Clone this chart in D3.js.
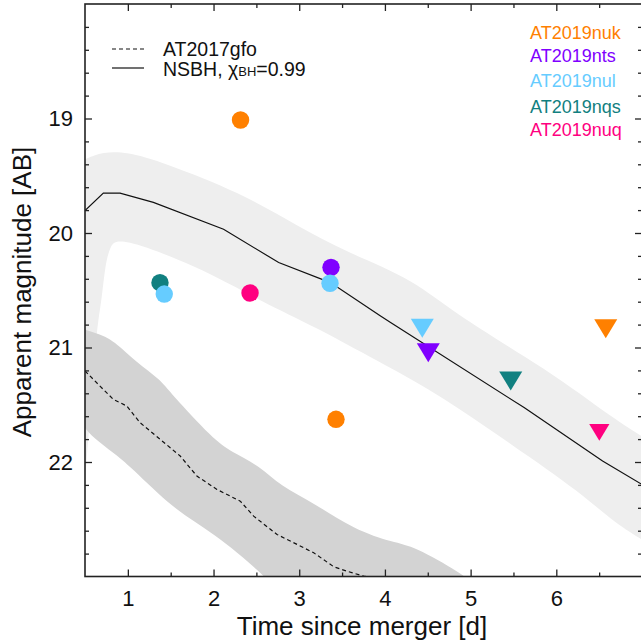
<!DOCTYPE html>
<html><head><meta charset="utf-8">
<script src="https://cdn.jsdelivr.net/npm/d3@7"></script>
<style>body{margin:0;background:#fff}svg{display:block;font-family:"Liberation Sans",Arial,sans-serif}</style>
</head><body><svg id="c" width="641" height="644"></svg>
<script>
// ---- data ----
const nsbhLine = [[0.5,19.805],[0.714,19.652],[0.909,19.652],[1.298,19.733],[2.117,19.967],[2.76,20.258],[3.364,20.433],[3.949,20.725],[4.066,20.782],[5.624,21.525],[6.54,21.992],[7.0,22.196]];
const nsbhUpper = [[0.5,19.355],[0.71,19.291],[0.987,19.291],[1.415,19.384],[2.312,19.646],[2.975,19.938],[3.559,20.17],[4.334,20.404],[4.845,20.725],[5.897,21.191],[6.676,21.628],[7.05,21.80]];
const nsbhLower = [[0.49,22.3],[0.52,21.95],[0.545,21.74],[0.578,21.453],[0.617,21.016],[0.655,20.753],[0.695,20.579],[0.734,20.288],[0.792,20.113],[0.889,20.028],[1.806,20.288],[2.584,20.608],[3.169,20.812],[3.949,21.132],[4.533,21.365],[5.507,21.861],[6.287,22.268],[6.676,22.531],[7.05,22.70]];
const gfoLine = [[0.5,21.205],[0.675,21.337],[0.831,21.453],[0.987,21.511],[1.143,21.657],[1.377,21.802],[1.611,21.948],[1.806,22.123],[2.04,22.24],[2.312,22.342],[2.468,22.473],[2.741,22.633],[2.975,22.72],[3.169,22.793],[3.403,22.915],[3.559,22.954],[3.753,22.997],[4.007,23.03]];
const gfoUpper = [[0.49,20.841],[0.675,20.885],[0.831,20.937],[1.104,21.132],[1.377,21.278],[1.494,21.394],[2.0,21.802],[2.195,21.905],[2.546,22.036],[2.78,22.211],[3.169,22.356],[3.637,22.589],[4.104,22.705],[4.338,22.735],[4.884,22.968],[5.118,23.11]];
const gfoLower = [[0.49,21.693],[0.597,21.788],[0.831,21.919],[1.026,22.036],[1.532,22.414],[2.0,22.618],[2.584,22.983],[2.72,23.11]];

const sources = ["AT2019nuk","AT2019nts","AT2019nul","AT2019nqs","AT2019nuq"];
const colors  = ["#ff8000","#8000ff","#66ccff","#118080","#ff0080"];
// detections: [source index, time, mag]
const detections = [[0,2.315,19.013],[0,3.429,21.627],[3,1.375,20.434],[2,1.425,20.533],[4,2.426,20.524],[1,3.371,20.300],[2,3.359,20.439]];
// upper limits: [source index, time, mag, relative size]
const limits = [[2,4.436,20.831,1],[1,4.506,21.045,1],[3,5.468,21.293,1],[0,6.577,20.837,1],[4,6.502,21.742,0.88]];

const xMajor = [1,2,3,4,5,6];
const yMajor = [19,20,21,22];

// ---- layout ----
const L=85, R=642, T=4, B=576.5;
const svg = d3.select("#c");
const x = d3.scaleLinear().domain([0.5,7]).range([L,R]);
const y = d3.scaleLinear().domain([18,23]).range([T,B]);

svg.append("defs").append("clipPath").attr("id","clip").append("rect")
  .attr("x",L).attr("y",T).attr("width",R-L).attr("height",B-T);
const g = svg.append("g").attr("clip-path","url(#clip)");

const edge = d3.line().x(d=>x(d[0])).y(d=>y(d[1])).curve(d3.curveBasis);
function band(up, lo){
  return edge(up) + "L" + edge(lo.slice().reverse()).slice(1) + "Z";
}
g.append("path").attr("d",band(nsbhUpper,nsbhLower)).attr("fill","#eeeeee");
g.append("path").attr("d",band(gfoUpper,gfoLower)).attr("fill","#d3d3d3");

const lin = d3.line().x(d=>x(d[0])).y(d=>y(d[1]));
g.append("path").attr("d",lin(nsbhLine)).attr("fill","none").attr("stroke","#111").attr("stroke-width",1.2);
g.append("path").attr("d",lin(gfoLine)).attr("fill","none").attr("stroke","#111").attr("stroke-width",1.2).attr("stroke-dasharray","4,3");

g.selectAll("circle.det").data(detections).join("circle")
  .attr("cx",d=>x(d[1])).attr("cy",d=>y(d[2])).attr("r",8.7)
  .attr("fill",d=>colors[d[0]]);
g.selectAll("path.lim").data(limits).join("path")
  .attr("d",d=>{const w=11.5*d[3], h=9.5*d[3];return `M${-w},${-h}L${w},${-h}L0,${h}Z`;})
  .attr("transform",d=>`translate(${x(d[1])},${y(d[2])})`)
  .attr("fill",d=>colors[d[0]]);

// ---- axes ----
const ax = svg.append("g");
function mk(axis, tr){ const a=ax.append("g").attr("transform",tr).call(axis); a.select(".domain").remove(); a.selectAll("line").attr("stroke","#222").attr("stroke-width",1.3); return a;}
const xMinor = d3.range(0.5,7.01,0.5).filter(v=>!xMajor.includes(v) && v>0.5 && v<7);
const yMinor = d3.range(18.2,22.9,0.2).map(v=>+v.toFixed(1)).filter(v=>!yMajor.includes(v));

const bx = mk(d3.axisBottom(x).tickValues(xMajor).tickFormat(d3.format("d")).tickSize(-7).tickPadding(14), `translate(0,${B})`);
bx.selectAll("text").attr("font-size",22).attr("fill","#111");
mk(d3.axisBottom(x).tickValues(xMinor).tickFormat("").tickSize(-4), `translate(0,${B})`);
mk(d3.axisTop(x).tickValues(xMajor).tickFormat("").tickSize(-7), `translate(0,${T})`);
mk(d3.axisTop(x).tickValues(xMinor).tickFormat("").tickSize(-4), `translate(0,${T})`);
const ly = mk(d3.axisLeft(y).tickValues(yMajor).tickFormat(d3.format("d")).tickSize(-7).tickPadding(12), `translate(${L},0)`);
ly.selectAll("text").attr("font-size",22).attr("fill","#111");
mk(d3.axisLeft(y).tickValues(yMinor).tickFormat("").tickSize(-4), `translate(${L},0)`);
mk(d3.axisRight(y).tickValues(yMajor).tickFormat("").tickSize(-7), `translate(${R},0)`);
mk(d3.axisRight(y).tickValues(yMinor).tickFormat("").tickSize(-4), `translate(${R},0)`);

svg.append("rect").attr("x",L).attr("y",T).attr("width",R-L).attr("height",B-T)
  .attr("fill","none").attr("stroke","#222").attr("stroke-width",1.6);

svg.append("text").attr("x",362).attr("y",635).attr("text-anchor","middle").attr("font-size",26).attr("fill","#111").text("Time since merger [d]");
svg.append("text").attr("transform","translate(31,292) rotate(-90)").attr("text-anchor","middle").attr("font-size",26).attr("fill","#111").text("Apparent magnitude [AB]");

// ---- legend ----
const lg = svg.append("g");
lg.append("line").attr("x1",112).attr("x2",144).attr("y1",49).attr("y2",49).attr("stroke","#111").attr("stroke-width",1.2).attr("stroke-dasharray","4,3");
lg.append("line").attr("x1",112).attr("x2",144).attr("y1",68).attr("y2",68).attr("stroke","#111").attr("stroke-width",1.2);
lg.append("text").attr("x",163).attr("y",56).attr("font-size",19.5).attr("fill","#111").text("AT2017gfo");
const t2 = lg.append("text").attr("x",163).attr("y",76).attr("font-size",19.5).attr("fill","#111");
t2.append("tspan").text("NSBH, χ");
t2.append("tspan").attr("font-size",13).text("BH");
t2.append("tspan").text("=0.99");

const labY = [39,62,87,113,136];
svg.selectAll("text.src").data(sources).join("text").attr("class","src")
  .attr("x",530).attr("y",(d,i)=>labY[i]).attr("font-size",18).attr("fill",(d,i)=>colors[i]).text(d=>d);
</script></body></html>
